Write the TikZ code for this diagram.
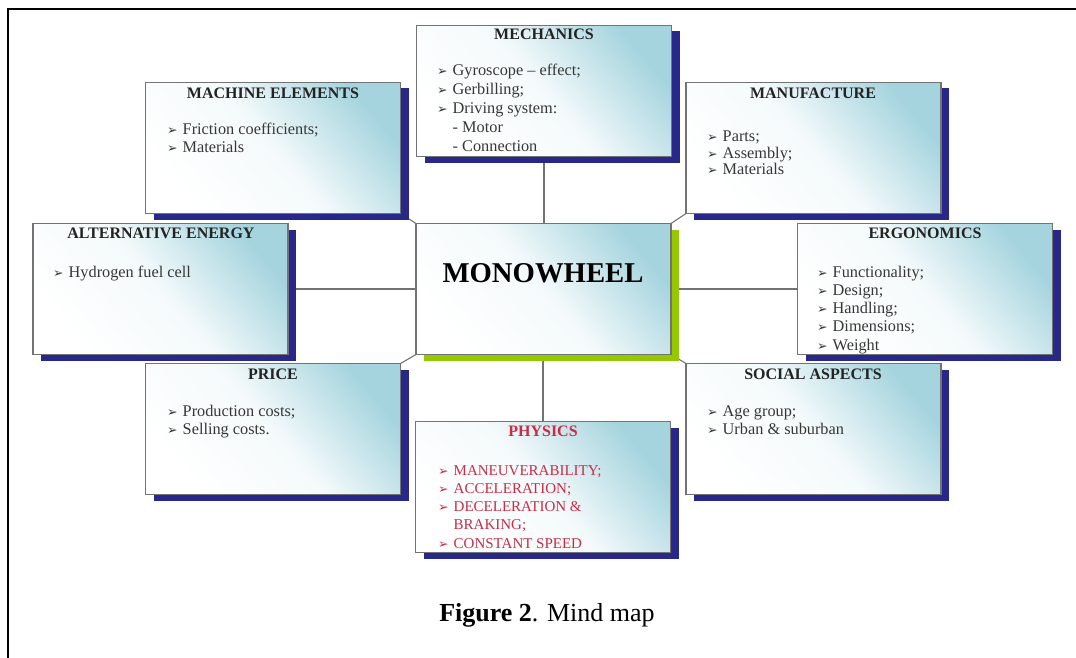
\documentclass[tikz,border=0pt]{standalone}
\usepackage{fontspec}
\setmainfont{Liberation Serif}
\newfontfamily\dejavu{DejaVu Sans}
\usetikzlibrary{shadows,backgrounds}
\definecolor{boxteal}{RGB}{165,212,222}
\definecolor{navyshadow}{RGB}{40,40,138}
\definecolor{limeshadow}{RGB}{150,200,0}
\definecolor{bordergray}{RGB}{115,115,115}
\definecolor{titlegray}{RGB}{35,35,35}
\definecolor{bodygray}{RGB}{55,55,55}
\definecolor{physred}{RGB}{200,45,70}
\newcommand{\bul}{\makebox[15.5pt][l]{\dejavu\fontsize{12.5}{12.5}\selectfont ➢}}
\newcommand{\subind}{\hspace*{15.5pt}}
\tikzset{
  mapbox/.style={draw=bordergray, line width=1.1pt, inner sep=0pt, outer sep=0pt,
    minimum width=255pt, minimum height=131pt,
    bottom color=white, top color=boxteal, middle color=boxteal!12!white, shading angle=-50,
    drop shadow={shadow xshift=8pt, shadow yshift=-6pt, fill=navyshadow, opacity=1}},
  centerbox/.style={mapbox, drop shadow={shadow xshift=8pt, shadow yshift=-6pt, fill=limeshadow, opacity=1}},
  boxtitle/.style={font=\bfseries\fontsize{16}{18}\selectfont, text=titlegray, anchor=base, inner sep=0pt},
  bodyline/.style={font=\fontsize{16.3}{18}\selectfont, text=bodygray, anchor=base west, inner sep=0pt},
  physline/.style={font=\fontsize{15}{18}\selectfont, text=physred, anchor=base west, inner sep=0pt},
  link/.style={draw=bordergray, line width=1.1pt}
}
\begin{document}
\begin{tikzpicture}[x=1pt,y=-1pt]
\useasboundingbox (0,0) rectangle (1076,658);
\draw[line width=2pt] (8,658) -- (8,9) -- (1076,9);

% boxes
\node[mapbox] (mech) at (544,91) {};
\node[mapbox] (mach) at (273,148) {};
\node[mapbox] (manu) at (813.5,148) {};
\node[mapbox] (alt) at (160.5,289) {};
\node[centerbox] (mono) at (543.5,289) {};
\node[mapbox] (ergo) at (925,289) {};
\node[mapbox] (price) at (273,429) {};
\node[mapbox] (phys) at (543,487) {};
\node[mapbox] (soc) at (813.5,429) {};

% connectors
\begin{scope}[on background layer]
\draw[link] (mech.south) -- (mech.south |- mono.north);
\draw[link] (alt.east) -- (mono.west);
\draw[link] (mono.east) -- (ergo.west);
\draw[link] (phys.north |- mono.south) -- (phys.north);
\draw[link] (mach.south east) -- (mono.north west);
\draw[link] (manu.south west) -- (mono.north east);
\draw[link] (price.north east) -- (mono.south west);
\draw[link] (soc.north west) -- (mono.south east);
\end{scope}

% titles
\node[boxtitle] (mech-t) at (544,39.5) {MECHANICS};
\node[boxtitle] (mach-t) at (273,99) {MACHINE ELEMENTS};
\node[boxtitle] (manu-t) at (813,99) {MANUFACTURE};
\node[boxtitle] (alt-t) at (161,238) {ALTERNATIVE ENERGY};
\node[boxtitle] (ergo-t) at (925,238) {ERGONOMICS};
\node[boxtitle] (price-t) at (273,379) {PRICE};
\node[boxtitle, text=physred] (phys-t) at (543,436) {PHYSICS};
\node[boxtitle] (soc-t) at (813,379) {SOCIAL ASPECTS};
\node[font=\bfseries\fontsize{28.7}{32}\selectfont, text=black, anchor=base, inner sep=0pt] (mono-t) at (543,282.5) {MONOWHEEL};

% body texts
\foreach \t [count=\i] in {{\bul Gyroscope – effect;}, {\bul Gerbilling;}, {\bul Driving system:}, {\subind - Motor}, {\subind - Connection}}
  \node[bodyline] (mech-\i) at (437,{76+18.75*(\i-1)}) {\t};
\foreach \t [count=\i] in {{\bul Friction coefficients;}, {\bul Materials}}
  \node[bodyline] (mach-\i) at (167,{135+18*(\i-1)}) {\t};
\foreach \t [count=\i] in {{\bul Parts;}, {\bul Assembly;}, {\bul Materials}}
  \node[bodyline] (manu-\i) at (707,{142+16.5*(\i-1)}) {\t};
\node[bodyline] (alt-1) at (53,277) {\bul Hydrogen fuel cell};
\foreach \t [count=\i] in {{\bul Functionality;}, {\bul Design;}, {\bul Handling;}, {\bul Dimensions;}, {\bul Weight}}
  \node[bodyline] (ergo-\i) at (817,{277+18.25*(\i-1)}) {\t};
\foreach \t [count=\i] in {{\bul Production costs;}, {\bul Selling costs.}}
  \node[bodyline] (price-\i) at (167,{416+18*(\i-1)}) {\t};
\foreach \t [count=\i] in {{\bul MANEUVERABILITY;}, {\bul ACCELERATION;}, {\bul DECELERATION \&}, {\subind BRAKING;}, {\bul CONSTANT SPEED}}
  \node[physline] (phys-\i) at (438,{475+18.25*(\i-1)}) {\t};
\foreach \t [count=\i] in {{\bul Age group;}, {\bul Urban \& suburban}}
  \node[bodyline] (soc-\i) at (707,{416+18*(\i-1)}) {\t};

% caption
\node[font=\fontsize{26}{30}\selectfont, anchor=base, inner sep=0pt] (caption) at (547,621) {\textbf{Figure 2}. Mind map};
\end{tikzpicture}
\end{document}
